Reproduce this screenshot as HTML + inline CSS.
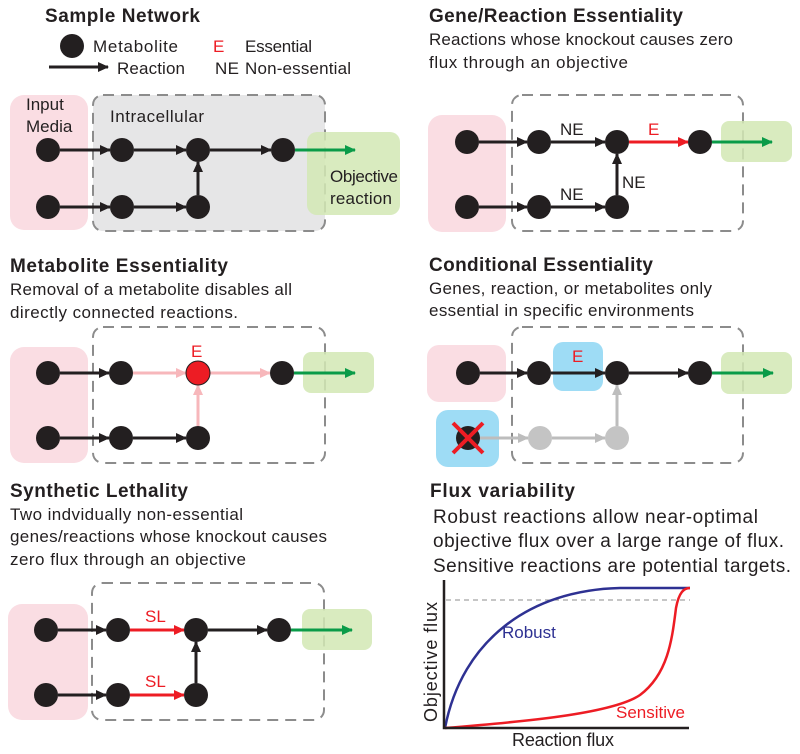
<!DOCTYPE html>
<html><head><meta charset="utf-8"><style>
html,body{margin:0;padding:0;background:#fff;}
svg{display:block;font-family:"Liberation Sans",sans-serif;}
.t{font-weight:bold;font-size:19px;fill:#231f20;}
.s{font-size:17px;fill:#231f20;}
.l{font-size:17px;fill:#231f20;}
.n{fill:#231f20;}
.a{stroke:#231f20;stroke-width:3;fill:none;}
.dash{fill:none;stroke:#8c8c8c;stroke-width:2;stroke-dasharray:11,7;}
.pink{fill:#fadde3;}
.green{fill:#d2e8b4;opacity:0.85;}
.blue{fill:#9edcf5;}
</style></head><body>
<svg width="800" height="754" viewBox="0 0 800 754" xmlns="http://www.w3.org/2000/svg">
<defs>
<marker id="mk" markerUnits="userSpaceOnUse" markerWidth="12" markerHeight="10" refX="10" refY="5" orient="auto"><path d="M0,0 L11,5 L0,10 Z" fill="#231f20"/></marker>
<marker id="mr" markerUnits="userSpaceOnUse" markerWidth="12" markerHeight="10" refX="10" refY="5" orient="auto"><path d="M0,0 L11,5 L0,10 Z" fill="#ed1c24"/></marker>
<marker id="mg" markerUnits="userSpaceOnUse" markerWidth="12" markerHeight="10" refX="10" refY="5" orient="auto"><path d="M0,0 L11,5 L0,10 Z" fill="#0a9b48"/></marker>
<marker id="mp" markerUnits="userSpaceOnUse" markerWidth="12" markerHeight="10" refX="10" refY="5" orient="auto"><path d="M0,0 L11,5 L0,10 Z" fill="#f7b7bb"/></marker>
<marker id="mgr" markerUnits="userSpaceOnUse" markerWidth="12" markerHeight="10" refX="10" refY="5" orient="auto"><path d="M0,0 L11,5 L0,10 Z" fill="#bdbdbd"/></marker>
</defs>

<!-- Panel 1 -->
<text class="t" x="45" y="22" textLength="155">Sample Network</text>
<circle class="n" cx="72" cy="46" r="12"/>
<text class="l" x="93" y="52" textLength="85">Metabolite</text>
<line class="a" x1="49" y1="67" x2="108" y2="67" marker-end="url(#mk)"/>
<text class="l" x="117" y="74" textLength="68">Reaction</text>
<text class="l" x="213" y="52" fill="#ed1c24" style="fill:#ed1c24">E</text>
<text class="l" x="245" y="52" textLength="67">Essential</text>
<text class="l" x="215" y="74" textLength="24">NE</text>
<text class="l" x="245" y="74" textLength="106">Non-essential</text>

<rect class="pink" x="10" y="95" width="78" height="135" rx="14"/>
<rect x="93" y="95" width="232" height="136" rx="10" fill="#e6e6e7" stroke="#8c8c8c" stroke-width="2" stroke-dasharray="11,7"/>
<rect class="green" x="307" y="132" width="93" height="83" rx="10"/>
<text class="l" x="26" y="110">Input</text>
<text class="l" x="26" y="132">Media</text>
<text class="l" x="110" y="122" textLength="94">Intracellular</text>
<text class="l" x="330" y="182" textLength="68">Objective</text>
<text class="l" x="330" y="204" textLength="62">reaction</text>
<line class="a" x1="60" y1="150" x2="110" y2="150" marker-end="url(#mk)"/>
<line class="a" x1="134" y1="150" x2="186" y2="150" marker-end="url(#mk)"/>
<line class="a" x1="210" y1="150" x2="271" y2="150" marker-end="url(#mk)"/>
<line x1="295" y1="150" x2="355" y2="150" stroke="#0a9b48" stroke-width="3" marker-end="url(#mg)"/>
<line class="a" x1="60" y1="207" x2="110" y2="207" marker-end="url(#mk)"/>
<line class="a" x1="134" y1="207" x2="186" y2="207" marker-end="url(#mk)"/>
<line class="a" x1="198" y1="195" x2="198" y2="162" marker-end="url(#mk)"/>
<circle class="n" cx="48" cy="150" r="12"/><circle class="n" cx="122" cy="150" r="12"/><circle class="n" cx="198" cy="150" r="12"/><circle class="n" cx="283" cy="150" r="12"/>
<circle class="n" cx="48" cy="207" r="12"/><circle class="n" cx="122" cy="207" r="12"/><circle class="n" cx="198" cy="207" r="12"/>

<!-- Panel 2 -->
<text class="t" x="429" y="22" textLength="254">Gene/Reaction Essentiality</text>
<text class="s" x="429" y="45" textLength="304">Reactions whose knockout causes zero</text>
<text class="s" x="429" y="68" textLength="199">flux through an objective</text>
<rect class="pink" x="428" y="115" width="78" height="117" rx="14"/>
<rect class="dash" x="512" y="95" width="231" height="136" rx="10"/>
<rect class="green" x="721" y="121" width="71" height="41" rx="8"/>
<line class="a" x1="479" y1="142" x2="527" y2="142" marker-end="url(#mk)"/>
<line class="a" x1="551" y1="142" x2="605" y2="142" marker-end="url(#mk)"/>
<line x1="629" y1="142" x2="688" y2="142" stroke="#ed1c24" stroke-width="3" marker-end="url(#mr)"/>
<line x1="712" y1="142" x2="772" y2="142" stroke="#0a9b48" stroke-width="3" marker-end="url(#mg)"/>
<line class="a" x1="479" y1="207" x2="527" y2="207" marker-end="url(#mk)"/>
<line class="a" x1="551" y1="207" x2="605" y2="207" marker-end="url(#mk)"/>
<line class="a" x1="617" y1="195" x2="617" y2="154" marker-end="url(#mk)"/>
<circle class="n" cx="467" cy="142" r="12"/><circle class="n" cx="539" cy="142" r="12"/><circle class="n" cx="617" cy="142" r="12"/><circle class="n" cx="700" cy="142" r="12"/>
<circle class="n" cx="467" cy="207" r="12"/><circle class="n" cx="539" cy="207" r="12"/><circle class="n" cx="617" cy="207" r="12"/>
<text class="l" x="560" y="135">NE</text>
<text class="l" x="648" y="135" style="fill:#ed1c24">E</text>
<text class="l" x="560" y="200">NE</text>
<text class="l" x="622" y="188">NE</text>

<!-- Panel 3 -->
<text class="t" x="10" y="272" textLength="218">Metabolite Essentiality</text>
<text class="s" x="10" y="295" textLength="282">Removal of a metabolite disables all</text>
<text class="s" x="10" y="318" textLength="228">directly connected reactions.</text>
<rect class="pink" x="10" y="347" width="78" height="116" rx="14"/>
<rect class="dash" x="93" y="327" width="232" height="136" rx="10"/>
<rect class="green" x="303" y="352" width="71" height="41" rx="8"/>
<line class="a" x1="60" y1="373" x2="109" y2="373" marker-end="url(#mk)"/>
<line x1="133" y1="373" x2="186" y2="373" stroke="#f7b7bb" stroke-width="3" marker-end="url(#mp)"/>
<line x1="210" y1="373" x2="270" y2="373" stroke="#f7b7bb" stroke-width="3" marker-end="url(#mp)"/>
<line x1="294" y1="373" x2="355" y2="373" stroke="#0a9b48" stroke-width="3" marker-end="url(#mg)"/>
<line class="a" x1="60" y1="438" x2="109" y2="438" marker-end="url(#mk)"/>
<line class="a" x1="133" y1="438" x2="186" y2="438" marker-end="url(#mk)"/>
<line x1="198" y1="426" x2="198" y2="385" stroke="#f7b7bb" stroke-width="3" marker-end="url(#mp)"/>
<circle class="n" cx="48" cy="373" r="12"/><circle class="n" cx="121" cy="373" r="12"/><circle cx="198" cy="373" r="12" fill="#ed1c24" stroke="#231f20" stroke-width="1"/><circle class="n" cx="282" cy="373" r="12"/>
<circle class="n" cx="48" cy="438" r="12"/><circle class="n" cx="121" cy="438" r="12"/><circle class="n" cx="198" cy="438" r="12"/>
<text class="l" x="191" y="357" style="fill:#ed1c24">E</text>

<!-- Panel 4 -->
<text class="t" x="429" y="271" textLength="224">Conditional Essentiality</text>
<text class="s" x="429" y="294" textLength="283">Genes, reaction, or metabolites only</text>
<text class="s" x="429" y="316" textLength="265">essential in specific environments</text>
<rect class="pink" x="427" y="345" width="79" height="57" rx="12"/>
<rect class="blue" x="553" y="342" width="50" height="49" rx="10"/>
<rect class="blue" x="436" y="410" width="63" height="57" rx="12"/>
<rect class="dash" x="512" y="327" width="231" height="136" rx="10"/>
<rect class="green" x="721" y="352" width="71" height="42" rx="8"/>
<line class="a" x1="480" y1="373" x2="527" y2="373" marker-end="url(#mk)"/>
<line class="a" x1="551" y1="373" x2="605" y2="373" marker-end="url(#mk)"/>
<line class="a" x1="629" y1="373" x2="688" y2="373" marker-end="url(#mk)"/>
<line x1="712" y1="373" x2="773" y2="373" stroke="#0a9b48" stroke-width="3" marker-end="url(#mg)"/>
<line x1="480" y1="438" x2="528" y2="438" stroke="#bdbdbd" stroke-width="3" marker-end="url(#mgr)"/>
<line x1="552" y1="438" x2="605" y2="438" stroke="#bdbdbd" stroke-width="3" marker-end="url(#mgr)"/>
<line x1="617" y1="426" x2="617" y2="385" stroke="#bdbdbd" stroke-width="3" marker-end="url(#mgr)"/>
<circle class="n" cx="468" cy="373" r="12"/><circle class="n" cx="539" cy="373" r="12"/><circle class="n" cx="617" cy="373" r="12"/><circle class="n" cx="700" cy="373" r="12"/>
<circle class="n" cx="468" cy="438" r="12"/><circle cx="540" cy="438" r="12" fill="#c4c4c4"/><circle cx="617" cy="438" r="12" fill="#c4c4c4"/>
<path d="M453,423 L483,453 M483,423 L453,453" stroke="#ed1c24" stroke-width="4"/>
<text class="l" x="572" y="362" style="fill:#ed1c24">E</text>

<!-- Panel 5 -->
<text class="t" x="10" y="497" textLength="178">Synthetic Lethality</text>
<text class="s" x="10" y="520" textLength="233">Two indvidually non-essential</text>
<text class="s" x="10" y="542" textLength="317">genes/reactions whose knockout causes</text>
<text class="s" x="10" y="565" textLength="236">zero flux through an objective</text>
<rect class="pink" x="8" y="604" width="80" height="116" rx="14"/>
<rect class="dash" x="92" y="583" width="232" height="137" rx="10"/>
<rect class="green" x="302" y="609" width="70" height="41" rx="8"/>
<line class="a" x1="58" y1="630" x2="106" y2="630" marker-end="url(#mk)"/>
<line x1="130" y1="630" x2="184" y2="630" stroke="#ed1c24" stroke-width="3" marker-end="url(#mr)"/>
<line class="a" x1="208" y1="630" x2="267" y2="630" marker-end="url(#mk)"/>
<line x1="291" y1="630" x2="352" y2="630" stroke="#0a9b48" stroke-width="3" marker-end="url(#mg)"/>
<line class="a" x1="58" y1="695" x2="106" y2="695" marker-end="url(#mk)"/>
<line x1="130" y1="695" x2="184" y2="695" stroke="#ed1c24" stroke-width="3" marker-end="url(#mr)"/>
<line class="a" x1="196" y1="683" x2="196" y2="642" marker-end="url(#mk)"/>
<circle class="n" cx="46" cy="630" r="12"/><circle class="n" cx="118" cy="630" r="12"/><circle class="n" cx="196" cy="630" r="12"/><circle class="n" cx="279" cy="630" r="12"/>
<circle class="n" cx="46" cy="695" r="12"/><circle class="n" cx="118" cy="695" r="12"/><circle class="n" cx="196" cy="695" r="12"/>
<text class="l" x="145" y="622" style="fill:#ed1c24">SL</text>
<text class="l" x="145" y="687" style="fill:#ed1c24">SL</text>

<!-- Panel 6 -->
<text class="t" x="430" y="497" textLength="145">Flux variability</text>
<text x="433" y="523" font-size="19" fill="#231f20" textLength="325">Robust reactions allow near-optimal</text>
<text x="433" y="547" font-size="19" fill="#231f20" textLength="351">objective flux over a large range of flux.</text>
<text x="433" y="572" font-size="19" fill="#231f20" textLength="358">Sensitive reactions are potential targets.</text>
<line x1="446" y1="600" x2="690" y2="600" stroke="#8c8c8c" stroke-width="1" stroke-dasharray="5,4"/>
<path d="M445,728 C462,640 530,590 620,588 L690,588" fill="none" stroke="#2e3192" stroke-width="2.5"/>
<path d="M445,728 C520,722 612,714 640,695 C668,674 672,640 676,608 C679,592 684,588 690,588" fill="none" stroke="#ed1c24" stroke-width="2.5"/>
<path d="M444,580 V728 H689" fill="none" stroke="#231f20" stroke-width="2.5"/>
<text x="502" y="638" font-size="17" fill="#2e3192">Robust</text>
<text x="616" y="718" font-size="17" fill="#ed1c24">Sensitive</text>
<text x="512" y="746" font-size="18" fill="#231f20" textLength="102">Reaction flux</text>
<text x="0" y="0" font-size="18" fill="#231f20" textLength="120" transform="translate(437,722) rotate(-90)">Objective flux</text>
</svg>
</body></html>
